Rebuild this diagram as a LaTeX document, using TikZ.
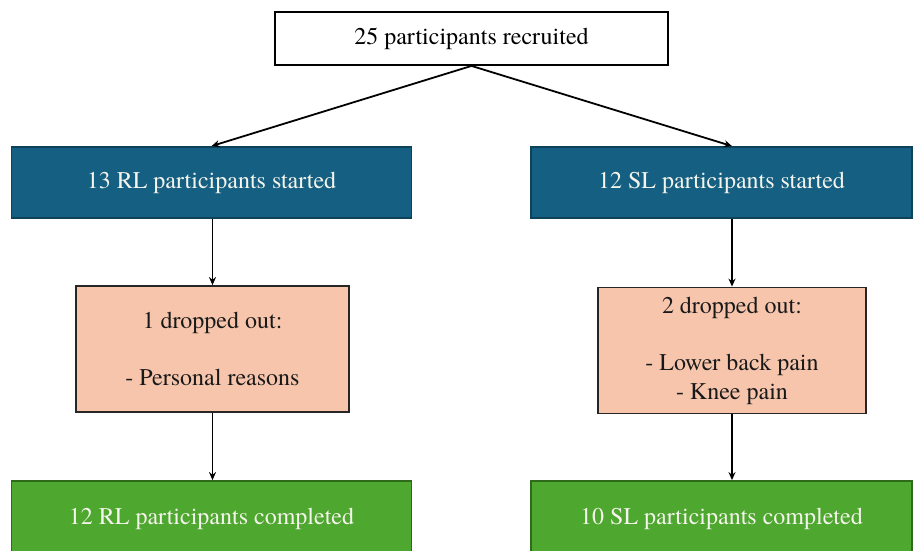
\documentclass[tikz,border=0pt]{standalone}
\usepackage{fontspec}
\setmainfont{texgyretermes-regular.otf}
\usetikzlibrary{arrows.meta,calc}
\definecolor{blu}{HTML}{156082}
\definecolor{bluD}{HTML}{0E4258}
\definecolor{grn}{HTML}{4EA72E}
\definecolor{grnD}{HTML}{2E6A1A}
\definecolor{pch}{HTML}{F6C5AC}
\definecolor{txtW}{HTML}{F4F4EC}
\begin{document}
\begin{tikzpicture}[x=1pt,y=-1pt,
  every node/.style={font=\fontsize{24}{28.7}\selectfont, inner sep=0pt, align=center},
  topbox/.style={draw=black, fill=white, line width=1.8pt, minimum width=393pt, minimum height=53pt},
  bluebox/.style={draw=bluD, fill=blu, line width=1.8pt, text=txtW, minimum height=71pt},
  peachbox/.style={draw=black!85, fill=pch, line width=1.8pt, text=black!90, minimum height=126pt},
  greenbox/.style={draw=grnD, fill=grn, line width=1.8pt, text=txtW, minimum height=76pt},
  arr/.style={line width=1.8pt, -{Stealth[length=8pt,width=7pt]}}]
\useasboundingbox (0,0) rectangle (922,550);
\clip (0,0) rectangle (922,550);
\node[topbox] (top) at (471.5,38.5) {25 participants recruited};
\node[bluebox, minimum width=400pt] (lb) at (211.5,182.5) {13 RL participants started};
\node[bluebox, minimum width=381pt] (rb) at (721.5,182.5) {12 SL participants started};
\node[peachbox, minimum width=273pt] (lp) at (212.5,349) {1 dropped out:\\[28.7pt]- Personal reasons};
\node[peachbox, minimum width=268pt] (rp) at (732,350.5) {2 dropped out:\\\mbox{}\\- Lower back pain\\- Knee pain};
\node[greenbox, minimum width=400pt] (lg) at (211.5,519) {12 RL participants completed};
\node[greenbox, minimum width=381pt] (rg) at (721.5,519) {10 SL participants completed};
\draw[arr] (top.south) -- (lb.north);
\draw[arr] (top.south) -- (rp.north |- rb.north);
\draw[arr] (lb.south -| lp.north) -- (lp.north);
\draw[arr] (rp.north |- rb.south) -- (rp.north);
\draw[arr] (lp.south) -- (lp.south |- lg.north);
\draw[arr] (rp.south) -- (rp.south |- rg.north);
\end{tikzpicture}
\end{document}
